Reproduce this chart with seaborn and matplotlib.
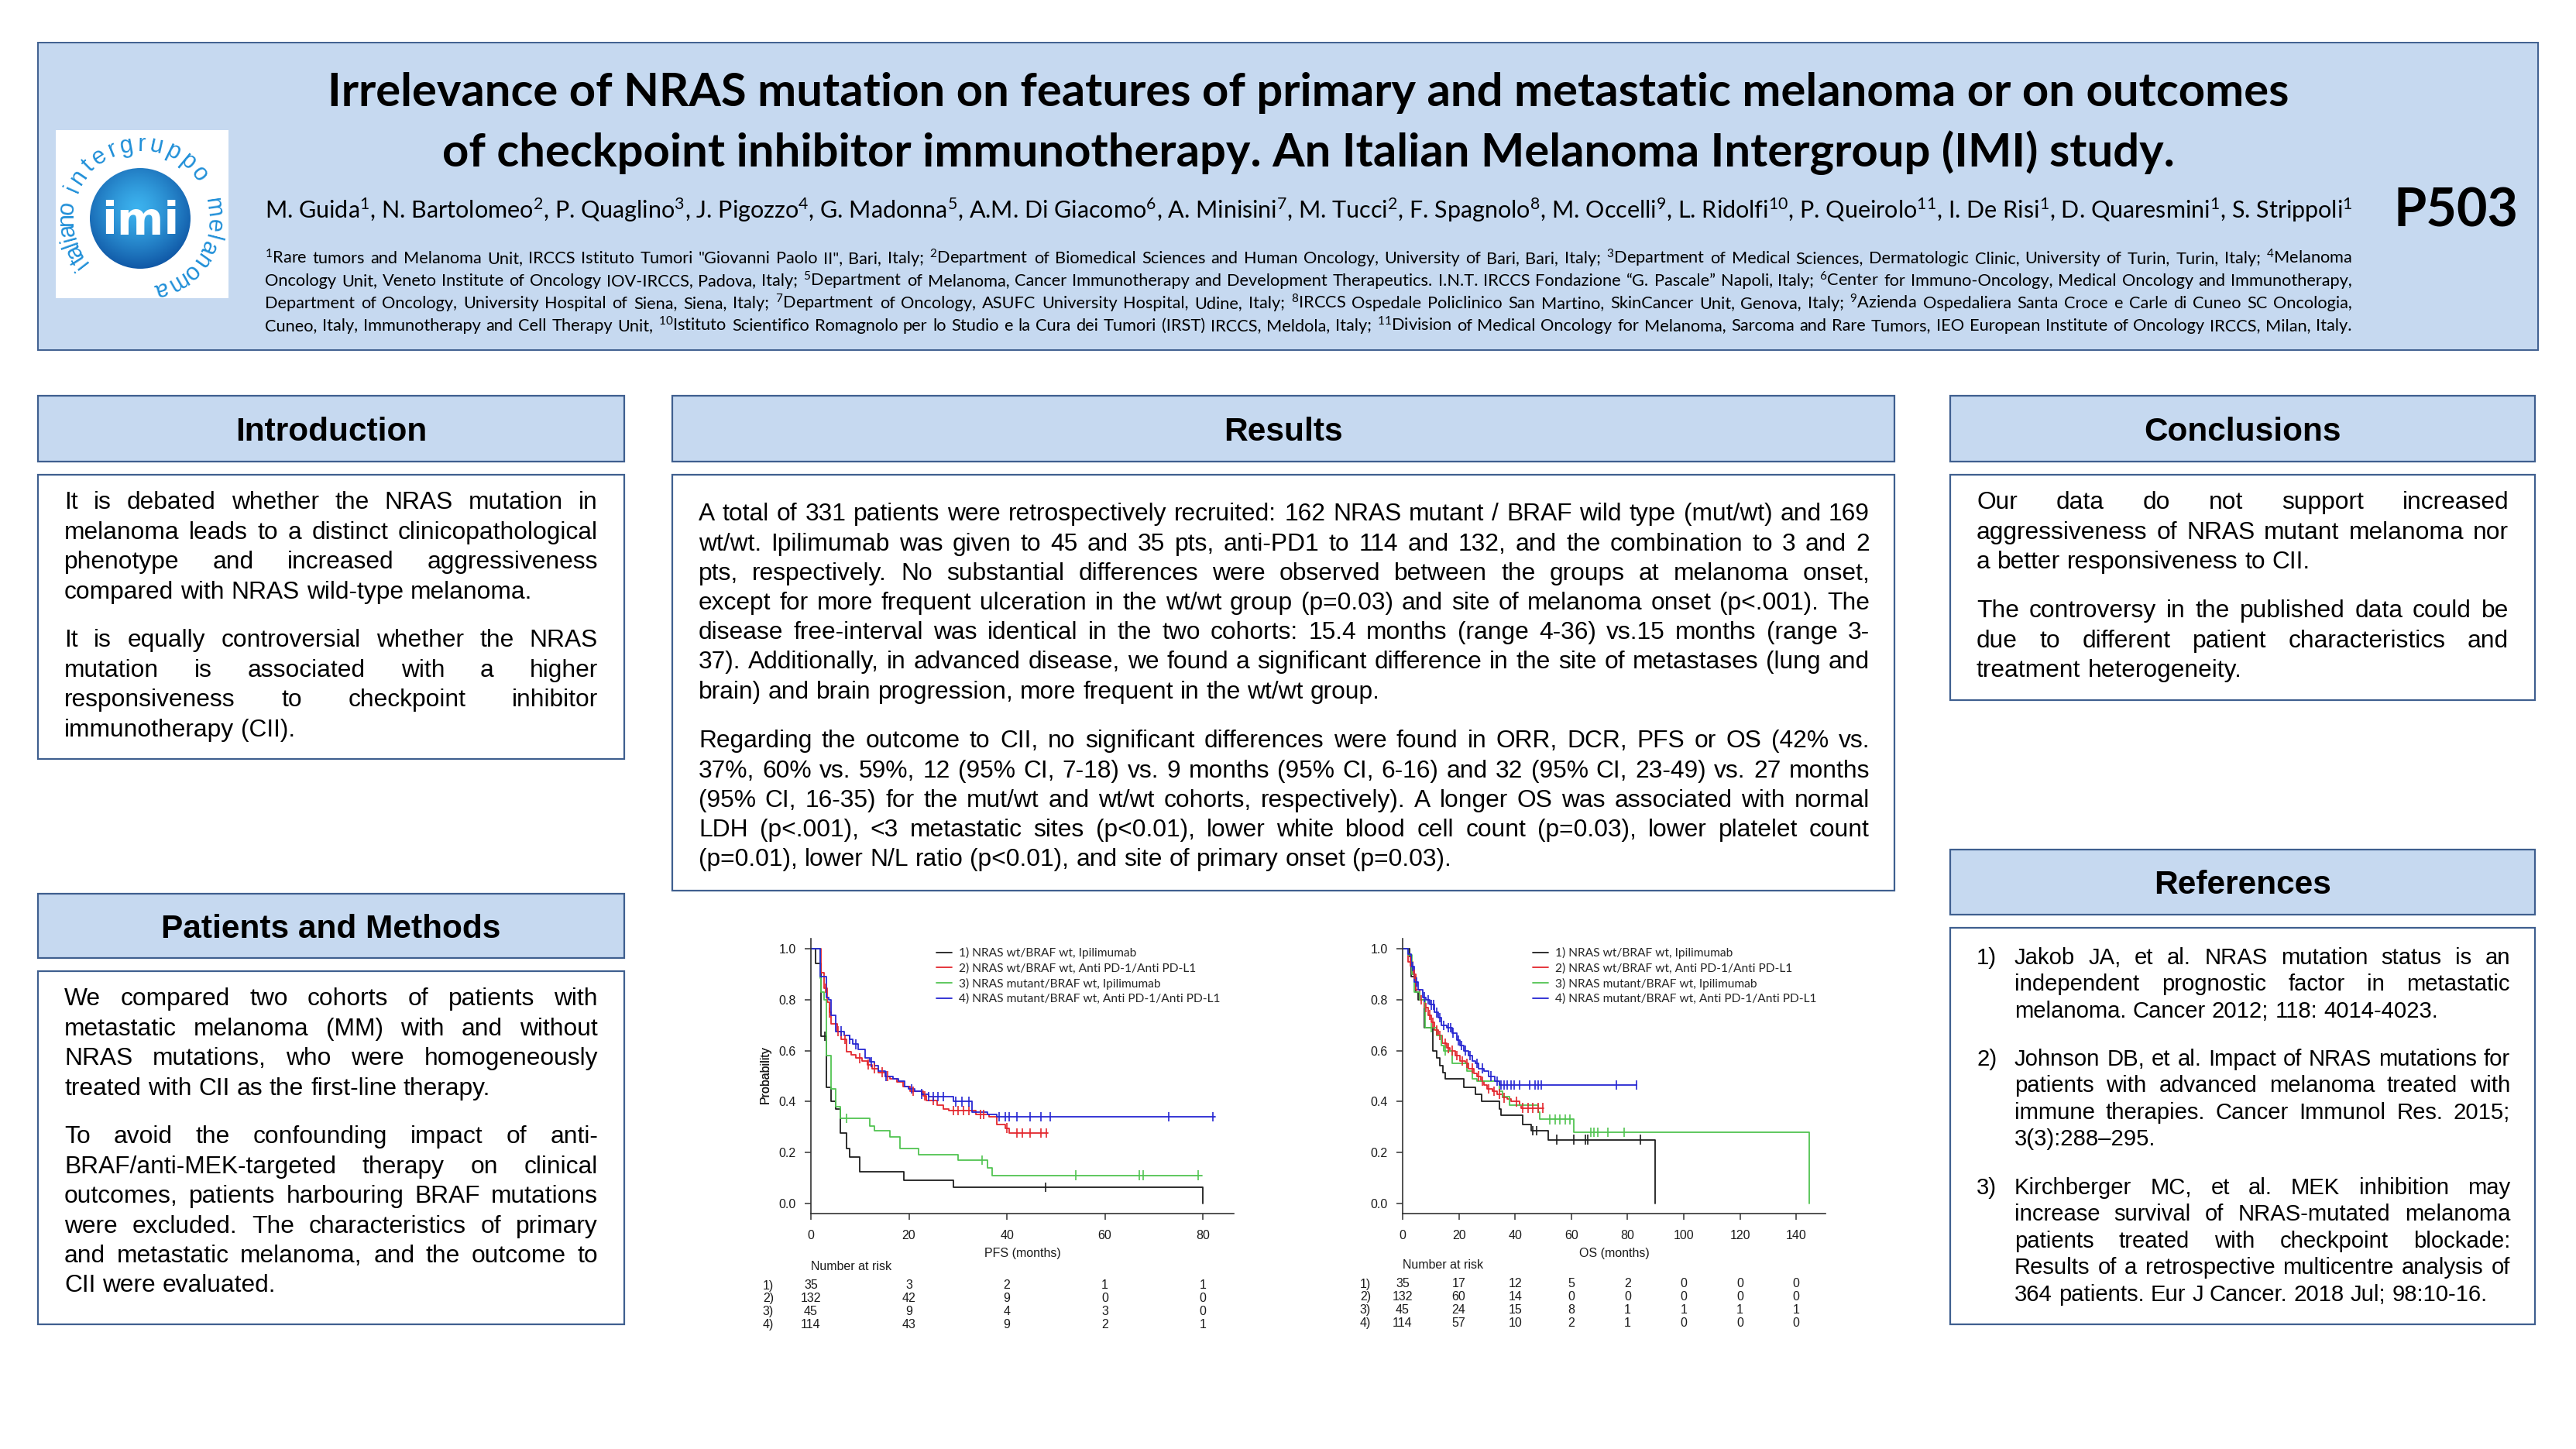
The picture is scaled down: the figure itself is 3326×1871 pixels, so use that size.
import numpy as np
import pandas as pd
import matplotlib
matplotlib.use("Agg")
import matplotlib.pyplot as plt
import seaborn as sns
from matplotlib.patches import Rectangle, Circle
from matplotlib.lines import Line2D
from matplotlib.transforms import blended_transform_factory

# ======================= DATA =======================
group_labels = ["1) NRAS wt/BRAF wt, Ipilimumab",
                "2) NRAS wt/BRAF wt, Anti PD-1/Anti PD-L1",
                "3) NRAS mutant/BRAF wt, Ipilimumab",
                "4) NRAS mutant/BRAF wt, Anti PD-1/Anti PD-L1"]
group_colors = ["#1e1e1e", "#e3262d", "#52c452", "#2626d2"]

# ---- PFS Kaplan-Meier (time in months, survival after each step, censor times)
pfs1_t = [0, 1.0, 2.05, 3.1, 4.1, 5.1, 6.0, 7.2, 7.9, 9.9, 19.0, 29.1, 80.0]
pfs1_s = [1.0, 0.943, 0.657, 0.457, 0.40, 0.37, 0.276, 0.215, 0.182, 0.124, 0.091, 0.063, 0.0]
pfs1_c = [2.9, 47.9]

pfs2_t = [0, 2.0, 2.7, 3.3, 3.8, 4.1, 5.3, 6.2, 7.2, 8.2, 9.2, 10.5, 11.5, 12.5, 13.7, 15.1, 16.1,
          17.5, 18.8, 20.2, 22.9, 23.6, 25.7, 27.1, 28.1, 33.6, 36.3, 38.0, 39.7, 40.4, 48.3]
pfs2_s = [1.0, 0.906, 0.845, 0.79, 0.75, 0.706, 0.676, 0.645, 0.597, 0.585, 0.57, 0.56, 0.545, 0.53,
          0.515, 0.50, 0.49, 0.478, 0.458, 0.44, 0.422, 0.405, 0.387, 0.372, 0.365, 0.35, 0.34, 0.31,
          0.296, 0.277, 0.277]
pfs2_c = [3.0, 3.8, 5.5, 7.0, 9.9, 11.7, 13.0, 14.6, 15.7, 20.9, 23.3, 25.0, 29.1, 30.1, 31.2, 32.2,
          34.6, 35.3, 40.0, 42.1, 43.1, 44.8, 46.9, 48.1]

pfs3_t = [0, 1.9, 2.05, 2.7, 3.1, 4.1, 5.1, 6.0, 12.0, 13.0, 16.1, 18.2, 21.9, 30.1, 36.0, 37.0, 79.8]
pfs3_s = [1.0, 0.885, 0.83, 0.80, 0.58, 0.45, 0.38, 0.335, 0.305, 0.287, 0.26, 0.215, 0.19, 0.17,
          0.14, 0.11, 0.11]
pfs3_c = [7.2, 34.9, 54.1, 67.0, 67.8, 79.1]

pfs4_t = [0, 1.9, 3.1, 3.6, 4.1, 5.1, 6.8, 7.9, 8.6, 9.6, 11.0, 12.0, 13.0, 13.7, 15.1, 16.8, 17.8,
          19.2, 19.9, 21.2, 22.6, 24.0, 29.1, 32.9, 36.0, 38.0, 82.5]
pfs4_s = [1.0, 0.89, 0.81, 0.80, 0.74, 0.676, 0.66, 0.645, 0.625, 0.605, 0.57, 0.555, 0.54, 0.52,
          0.50, 0.49, 0.48, 0.46, 0.45, 0.44, 0.43, 0.42, 0.40, 0.36, 0.35, 0.34, 0.34]
pfs4_c = [6.2, 7.9, 9.2, 12.3, 15.4, 20.5, 22.6, 24.0, 25.0, 26.0, 27.0, 29.5, 30.8, 32.2, 38.4,
          39.7, 40.4, 42.1, 44.8, 46.9, 48.9, 73.0, 82.0]

pfs_ticks = [0, 20, 40, 60, 80]
pfs_risk1 = [35, 3, 2, 1, 1]
pfs_risk2 = [132, 42, 9, 0, 0]
pfs_risk3 = [45, 9, 4, 3, 0]
pfs_risk4 = [114, 43, 9, 2, 1]

# ---- OS Kaplan-Meier
os1_t = [0, 2.4, 3.0, 4.8, 5.4, 7.8, 10.8, 12.0, 13.3, 14.2, 15.1, 21.7, 25.9, 28.0, 34.3, 34.9,
         42.8, 45.8, 51.8, 89.8]
os1_s = [1.0, 0.97, 0.89, 0.83, 0.80, 0.69, 0.60, 0.57, 0.54, 0.515, 0.49, 0.455, 0.43, 0.40, 0.37,
         0.345, 0.31, 0.285, 0.25, 0.0]
os1_c = [46.4, 47.6, 54.8, 60.8, 65.1, 65.7, 84.7]

os2_t = [0, 2.0, 3.6, 4.8, 6.0, 7.8, 9.0, 10.2, 11.4, 12.7, 14.1, 15.7, 16.9, 18.7, 20.5, 22.3, 23.5,
         25.3, 26.5, 27.7, 28.9, 30.1, 31.9, 33.7, 35.5, 37.3, 38.6, 41.6, 42.2, 50.0]
os2_s = [1.0, 0.95, 0.90, 0.84, 0.80, 0.77, 0.74, 0.71, 0.68, 0.66, 0.63, 0.61, 0.60, 0.58, 0.56,
         0.55, 0.53, 0.51, 0.50, 0.48, 0.465, 0.45, 0.44, 0.43, 0.415, 0.41, 0.40, 0.385, 0.375, 0.375]
os2_c = [2.7, 4.2, 6.6, 8.4, 9.6, 10.8, 12.0, 13.3, 15.1, 16.3, 17.5, 19.3, 21.1, 22.9, 24.7, 27.1,
         28.3, 30.7, 32.5, 34.3, 36.1, 40.4, 42.8, 44.6, 46.4, 48.2, 49.8]

os3_t = [0, 2.0, 3.3, 4.2, 6.0, 8.1, 12.0, 13.9, 14.5, 17.5, 22.9, 24.7, 26.5, 34.3, 35.5, 38.0,
         48.2, 48.8, 60.8, 144.6]
os3_s = [1.0, 0.975, 0.90, 0.83, 0.80, 0.69, 0.66, 0.62, 0.60, 0.55, 0.52, 0.49, 0.48, 0.44, 0.42,
         0.385, 0.36, 0.33, 0.28, 0.0]
os3_c = [10.2, 15.1, 52.4, 54.2, 56.0, 57.8, 59.6, 66.9, 68.1, 69.3, 72.9, 78.9]

os4_t = [0, 1.8, 3.0, 4.2, 5.4, 7.2, 8.4, 9.6, 11.4, 12.7, 13.9, 15.7, 17.5, 19.3, 20.5, 21.7, 23.5,
         24.7, 25.9, 27.1, 28.9, 30.7, 32.9, 34.3, 83.1]
os4_s = [1.0, 0.98, 0.93, 0.87, 0.84, 0.81, 0.80, 0.78, 0.75, 0.73, 0.70, 0.69, 0.67, 0.64, 0.62,
         0.60, 0.58, 0.56, 0.55, 0.53, 0.52, 0.50, 0.48, 0.465, 0.465]
os4_c = [3.6, 5.0, 7.8, 9.0, 10.2, 11.0, 12.0, 13.3, 14.5, 16.3, 17.0, 18.0, 19.9, 21.0, 22.3, 24.1,
         26.5, 28.3, 31.3, 33.5, 34.9, 36.1, 37.3, 38.6, 39.8, 41.6, 45.2, 47.0, 48.2, 49.4, 75.9, 83.1]

os_ticks = [0, 20, 40, 60, 80, 100, 120, 140]
os_risk1 = [35, 17, 12, 5, 2, 0, 0, 0]
os_risk2 = [132, 60, 14, 0, 0, 0, 0, 0]
os_risk3 = [45, 24, 15, 8, 1, 1, 1, 1]
os_risk4 = [114, 57, 10, 2, 1, 0, 0, 0]

yticks = [0.0, 0.2, 0.4, 0.6, 0.8, 1.0]
ytick_labels = ["0.0", "0.2", "0.4", "0.6", "0.8", "1.0"]

# ---- Texts
title_lines = ["Irrelevance of NRAS mutation on features of primary and metastatic melanoma or on outcomes",
               "of checkpoint inhibitor immunotherapy. An Italian Melanoma Intergroup (IMI) study."]
authors = ("M. Guida$^{1}$, N. Bartolomeo$^{2}$, P. Quaglino$^{3}$, J. Pigozzo$^{4}$, G. Madonna$^{5}$, "
           "A.M. Di Giacomo$^{6}$, A. Minisini$^{7}$, M. Tucci$^{2}$, F. Spagnolo$^{8}$, M. Occelli$^{9}$, "
           "L. Ridolfi$^{10}$, P. Queirolo$^{11}$, I. De Risi$^{1}$, D. Quaresmini$^{1}$, S. Strippoli$^{1}$")
affiliations = [
    "$^{1}$Rare tumors and Melanoma Unit, IRCCS Istituto Tumori \"Giovanni Paolo II\", Bari, Italy; $^{2}$Department of Biomedical Sciences and Human Oncology, University of Bari, Bari, Italy; $^{3}$Department of Medical Sciences, Dermatologic Clinic, University of Turin, Turin, Italy; $^{4}$Melanoma",
    "Oncology Unit, Veneto Institute of Oncology IOV-IRCCS, Padova, Italy; $^{5}$Department of Melanoma, Cancer Immunotherapy and Development Therapeutics. I.N.T. IRCCS Fondazione \u201cG. Pascale\u201d Napoli, Italy; $^{6}$Center for Immuno-Oncology, Medical Oncology and Immunotherapy,",
    "Department of Oncology, University Hospital of Siena, Siena, Italy; $^{7}$Department of Oncology, ASUFC University Hospital, Udine, Italy; $^{8}$IRCCS Ospedale Policlinico San Martino, SkinCancer Unit, Genova, Italy; $^{9}$Azienda Ospedaliera Santa Croce e Carle di Cuneo SC Oncologia,",
    "Cuneo, Italy, Immunotherapy and Cell Therapy Unit, $^{10}$Istituto Scientifico Romagnolo per lo Studio e la Cura dei Tumori (IRST) IRCCS, Meldola, Italy; $^{11}$Division of Medical Oncology for Melanoma, Sarcoma and Rare Tumors, IEO European Institute of Oncology IRCCS, Milan, Italy.",
]
intro_paras = [
    ["It is debated whether the NRAS mutation in",
     "melanoma leads to a distinct clinicopathological",
     "phenotype and increased aggressiveness",
     "compared with NRAS wild-type melanoma."],
    ["It is equally controversial whether the NRAS",
     "mutation is associated with a higher",
     "responsiveness to checkpoint inhibitor",
     "immunotherapy (CII)."],
]
methods_paras = [
    ["We compared two cohorts of patients with",
     "metastatic melanoma (MM) with and without",
     "NRAS mutations, who were homogeneously",
     "treated with CII as the first-line therapy."],
    ["To avoid the confounding impact of anti-",
     "BRAF/anti-MEK-targeted therapy on clinical",
     "outcomes, patients harbouring BRAF mutations",
     "were excluded. The characteristics of primary",
     "and metastatic melanoma, and the outcome to",
     "CII were evaluated."],
]
results_paras = [
    ["A total of 331 patients were retrospectively recruited: 162 NRAS mutant / BRAF wild type (mut/wt) and 169",
     "wt/wt. Ipilimumab was given to 45 and 35 pts, anti-PD1 to 114 and 132, and the combination to 3 and 2",
     "pts, respectively. No substantial differences were observed between the groups at melanoma onset,",
     "except for more frequent ulceration in the wt/wt group (p=0.03) and site of melanoma onset (p<.001). The",
     "disease free-interval was identical in the two cohorts: 15.4 months (range 4-36) vs.15 months (range 3-",
     "37). Additionally, in advanced disease, we found a significant difference in the site of metastases (lung and",
     "brain) and brain progression, more frequent in the wt/wt group."],
    ["Regarding the outcome to CII, no significant differences were found in ORR, DCR, PFS or OS (42% vs.",
     "37%, 60% vs. 59%, 12 (95% CI, 7-18) vs. 9 months (95% CI, 6-16) and 32 (95% CI, 23-49) vs. 27 months",
     "(95% CI, 16-35) for the mut/wt and wt/wt cohorts, respectively). A longer OS was associated with normal",
     "LDH (p<.001), <3 metastatic sites (p<0.01), lower white blood cell count (p=0.03), lower platelet count",
     "(p=0.01), lower N/L ratio (p<0.01), and site of primary onset (p=0.03)."],
]
concl_paras = [
    ["Our data do not support increased",
     "aggressiveness of NRAS mutant melanoma nor",
     "a better responsiveness to CII."],
    ["The controversy in the published data could be",
     "due to different patient characteristics and",
     "treatment heterogeneity."],
]
ref_numbers = ["1)", "2)", "3)"]
ref_paras = [
    ["Jakob JA, et al. NRAS mutation status is an",
     "independent prognostic factor in metastatic",
     "melanoma. Cancer 2012; 118: 4014-4023."],
    ["Johnson DB, et al. Impact of NRAS mutations for",
     "patients with advanced melanoma treated with",
     "immune therapies. Cancer Immunol Res. 2015;",
     "3(3):288\u2013295."],
    ["Kirchberger MC, et al. MEK inhibition may",
     "increase survival of NRAS-mutated melanoma",
     "patients treated with checkpoint blockade:",
     "Results of a retrospective multicentre analysis of",
     "364 patients. Eur J Cancer. 2018 Jul; 98:10-16."],
]

# ======================= SETUP =======================
W, H = 3326, 1871
DPI = 100
PT = DPI / 72.0

sns.set_theme(style="white")
plt.rcParams['font.family'] = ['Liberation Sans', 'DejaVu Sans']
plt.rcParams['mathtext.fontset'] = 'custom'
plt.rcParams['mathtext.rm'] = 'Lato'
plt.rcParams['mathtext.it'] = 'Lato:italic'
plt.rcParams['mathtext.bf'] = 'Lato:bold'

HDR_FILL = "#c6d9f0"
BORDER = "#3f5f8f"

fig = plt.figure(figsize=(W / DPI, H / DPI), dpi=DPI, facecolor='white')
R = fig.canvas.get_renderer()
ov = fig.add_axes([0, 0, 1, 1])
ov.set_xlim(0, W)
ov.set_ylim(H, 0)
ov.axis('off')
ov.set_autoscale_on(False)


def text_w(s, size, **kw):
    t = ov.text(0, 0, s, fontsize=size, **kw)
    w = t.get_window_extent(renderer=R).width
    t.remove()
    return w


def put(x, yc, s, size, ha='left', **kw):
    return ov.text(x, yc + 0.33 * size * PT, s, fontsize=size, ha=ha, va='baseline', **kw)


def jline(x0, x1, yc, s, size, justify=True, **kw):
    words = s.split(' ')
    ws = [text_w(w, size, **kw) for w in words]
    sp = text_w('n n', size, **kw) - text_w('nn', size, **kw)
    nat = sum(ws) + sp * (len(words) - 1)
    if len(words) > 1 and (justify or nat > x1 - x0):
        gap = (x1 - x0 - sum(ws)) / (len(words) - 1)
    else:
        gap = sp
    x = x0
    for w, wd in zip(words, ws):
        put(x, yc, w, size, **kw)
        x += wd + gap


def paragraph(paras, x0, x1, y_starts, dy, size, **kw):
    for lines, y0 in zip(paras, y_starts):
        for i, ln in enumerate(lines):
            jline(x0, x1, y0 + i * dy, ln, size, justify=(i < len(lines) - 1), **kw)


def fit_size(paras, width, base, **kw):
    worst = max(text_w(l, base, **kw) for p in paras for l in p)
    return min(base, base * width / worst * 0.99)


def box(x0, y0, x1, y1, fill, lw=1.6):
    ov.add_patch(Rectangle((x0, y0), x1 - x0, y1 - y0, facecolor=fill,
                           edgecolor=BORDER, linewidth=lw, zorder=1))


# ======================= HEADER =======================
box(49, 55, 3277, 452, HDR_FILL, lw=1.4)

tsize = 30 * 2531 / text_w(title_lines[0], 30, family='Lato', weight='bold')
put(1689, 117, title_lines[0], tsize, ha='center', family='Lato', weight='bold', color='black')
put(1689, 195, title_lines[1], tsize, ha='center', family='Lato', weight='bold', color='black')

asize = 16 * 2695 / text_w(authors, 16, family='Lato')
put(342, 272, authors, asize, family='Lato', color='black')

affsize = fit_size([affiliations[:3]], 2695, 16, family='Lato')
for i, ln in enumerate(affiliations):
    jline(342, 3037, 333 + i * 29, ln, affsize, justify=True, family='Lato', color='black')

psize = 40 * 161 / text_w("P503", 40, family='Lato', weight='bold')
put(3171, 270, "P503", psize, ha='center', family='Lato', weight='bold', color='black')

# ---- logo
ov.add_patch(Rectangle((72, 168), 223, 217, facecolor='white', edgecolor='none', zorder=2))
cx, cy, cr = 181, 282, 65
yy, xx = np.mgrid[-1:1:240j, -1:1:240j]
dist = np.sqrt((xx + 0.05) ** 2 + (yy + 0.2) ** 2)
f = (np.clip(dist / 1.2, 0, 1) ** 1.3)[..., None]
c0 = np.array([0x3c, 0xb2, 0xee]) / 255.0
c1 = np.array([0x10, 0x58, 0xa6]) / 255.0
img = c0 * (1 - f) + c1 * f
im = ov.imshow(img, extent=(cx - cr, cx + cr, cy + cr, cy - cr), zorder=3,
               interpolation='bilinear', aspect='auto')
im.set_clip_path(Circle((cx, cy), cr, transform=ov.transData))
isize = 40 * 100 / text_w("imi", 40, family='DejaVu Sans', weight='bold')
ov.text(cx, cy + 4, "imi", fontsize=isize, family='DejaVu Sans', weight='bold', color='white',
        ha='center', va='center', zorder=4)

ring_size = 22
ring_r = 95
ring_color = "#1f8fd8"


def ring_word(word, start_deg, end_deg):
    ws = np.array([text_w(ch, ring_size, family='Liberation Sans') + 6 for ch in word])
    centers = (np.cumsum(ws) - ws / 2) / ws.sum()
    for ch, frac in zip(word, centers):
        a = np.deg2rad(start_deg + (end_deg - start_deg) * frac)
        ov.text(cx + ring_r * np.cos(a), cy - ring_r * np.sin(a), ch, fontsize=ring_size,
                family='Liberation Sans', color=ring_color, rotation=np.rad2deg(a) - 90,
                rotation_mode='anchor', ha='center', va='center', zorder=4)


ring_word("intergruppo", 160, 30)
ring_word("melanoma", 16, -80)
ring_word("italiano", -140, -192)

# ======================= SECTIONS =======================
hsize = 30 * 247 / text_w("Introduction", 30, weight='bold')
sections = [("Introduction", 49, 511, 806, 596),
            ("Patients and Methods", 49, 1154, 806, 1237),
            ("Results", 868, 511, 2446, 596),
            ("Conclusions", 2518, 511, 3273, 596),
            ("References", 2518, 1097, 3273, 1181)]
for name, x0, y0, x1, y1 in sections:
    box(x0, y0, x1, y1, HDR_FILL)
    ov.text((x0 + x1) / 2, (y0 + y1) / 2 + 0.36 * hsize * PT, name, fontsize=hsize, weight='bold',
            ha='center', va='baseline', color='black', zorder=2)

bodies = [(49, 613, 806, 980), (49, 1254, 806, 1710), (868, 613, 2446, 1150),
          (2518, 613, 3273, 904), (2518, 1198, 3273, 1710)]
for x0, y0, x1, y1 in bodies:
    box(x0, y0, x1, y1, 'white')

bsize = 23
bsize = min(bsize, fit_size(intro_paras + methods_paras, 689, 23),
            fit_size(results_paras, 1512, 23), fit_size(concl_paras, 687, 23))
paragraph(intro_paras, 83, 772, [647, 825], 38.4, bsize, color='black')
paragraph(methods_paras, 83, 772, [1288, 1466], 38.4, bsize, color='black')
paragraph(results_paras, 902, 2414, [662, 955], 38.2, bsize, color='black')
paragraph(concl_paras, 2552, 3239, [647, 787], 38.4, bsize, color='black')

rsize = fit_size(ref_paras, 640, 22)
ref_starts = [1235, 1366, 1532]
paragraph(ref_paras, 2601, 3241, ref_starts, 34.6, rsize, color='black')
for num, y0 in zip(ref_numbers, ref_starts):
    put(2552, y0, num, rsize, color='black')

# ======================= KM PLOTS =======================
AX_TOP, AX_BOT = 1212, 1567
leg_size = 11 * 337 / text_w(group_labels[3], 11, family='Lato')
KM_FS = 11.5


def km_panel(px_left, px_right, xmax, ticks, curves, risks, xlabel, leg_x, row_lab_x, nar_y, risk_y0):
    ax = fig.add_axes([px_left / W, 1 - AX_BOT / H, (px_right - px_left) / W, (AX_BOT - AX_TOP) / H])
    ax.set_facecolor('none')
    rows, cens = [], []
    for lab, (t, s, c) in zip(group_labels, curves):
        for ti, si in zip(t, s):
            rows.append((ti, si, lab))
        t_arr, s_arr = np.asarray(t), np.asarray(s)
        for ci in c:
            idx = np.searchsorted(t_arr, ci, side='right') - 1
            cens.append((ci, s_arr[idx], lab))
    df = pd.DataFrame(rows, columns=['time', 'surv', 'group'])
    cdf = pd.DataFrame(cens, columns=['time', 'surv', 'group'])
    pal = dict(zip(group_labels, group_colors))
    sns.lineplot(data=df, x='time', y='surv', hue='group', hue_order=group_labels, palette=pal,
                 drawstyle='steps-post', estimator=None, sort=False, linewidth=1.3,
                 legend=False, ax=ax)
    sns.scatterplot(data=cdf, x='time', y='surv', hue='group', hue_order=group_labels, palette=pal,
                    marker='|', s=80, linewidth=1.2, legend=False, ax=ax, zorder=3)
    ax.set_xlim(0, xmax)
    ax.set_ylim(-0.04, 1.04)
    ax.set_xticks(ticks)
    ax.set_xticklabels([str(v) for v in ticks])
    ax.set_yticks(yticks)
    ax.set_yticklabels(ytick_labels)
    sns.despine(ax=ax)
    for sp in ('left', 'bottom'):
        ax.spines[sp].set_color('#333333')
        ax.spines[sp].set_linewidth(1.2)
    ax.tick_params(axis='both', direction='out', length=6, width=1.1, color='#333333',
                   labelsize=KM_FS, labelcolor='#1a1a1a', left=True, bottom=True)
    ax.tick_params(axis='y', pad=8)
    ax.tick_params(axis='x', pad=9)
    ax.set_xlabel(xlabel, fontsize=KM_FS, color='#1a1a1a')
    ax.xaxis.set_label_coords(0.5, -(1618 - AX_BOT) / (AX_BOT - AX_TOP))
    ax.xaxis.label.set_va('center')
    ax.set_ylabel("Probability", fontsize=KM_FS, color='#1a1a1a')
    ax.yaxis.set_label_coords((988 - px_left) / (px_right - px_left), (AX_BOT - 1388) / (AX_BOT - AX_TOP))
    ax.yaxis.label.set_va('center')
    ax.yaxis.label.set_ha('center')
    handles = [Line2D([], [], color=c, lw=1.3) for c in group_colors]
    ax.legend(handles, group_labels, loc='upper left', bbox_to_anchor=(leg_x / W, 1 - 1223 / H),
              bbox_transform=fig.transFigure, frameon=False, borderaxespad=0, borderpad=0,
              handlelength=1.3, handletextpad=0.55, labelspacing=0.33,
              prop={'family': 'Lato', 'size': leg_size})
    tr = blended_transform_factory(ax.transData, ov.transData)
    ax.text(0, nar_y, "Number at risk", transform=tr, fontsize=KM_FS, ha='left', va='center',
            color='#1a1a1a')
    for i, rk in enumerate(risks):
        yr = risk_y0 + i * 16.8
        ov.text(row_lab_x, yr, f"{i + 1})", fontsize=KM_FS, ha='center', va='center', color='#1a1a1a')
        for tk, n in zip(ticks, rk):
            ax.text(tk, yr, str(n), transform=tr, fontsize=KM_FS, ha='center', va='center',
                    color='#1a1a1a')
    return ax


km_panel(1047, 1593, 86.3, pfs_ticks,
         [(pfs1_t, pfs1_s, pfs1_c), (pfs2_t, pfs2_s, pfs2_c), (pfs3_t, pfs3_s, pfs3_c), (pfs4_t, pfs4_s, pfs4_c)],
         [pfs_risk1, pfs_risk2, pfs_risk3, pfs_risk4], "PFS (months)", 1209, 992, 1635, 1660)
km_panel(1811, 2357, 150.4, os_ticks,
         [(os1_t, os1_s, os1_c), (os2_t, os2_s, os2_c), (os3_t, os3_s, os3_c), (os4_t, os4_s, os4_c)],
         [os_risk1, os_risk2, os_risk3, os_risk4], "OS (months)", 1979, 1763, 1633, 1658)

ov.set_xlim(0, W)
ov.set_ylim(H, 0)
fig.savefig("out.png", dpi=DPI, facecolor='white')
